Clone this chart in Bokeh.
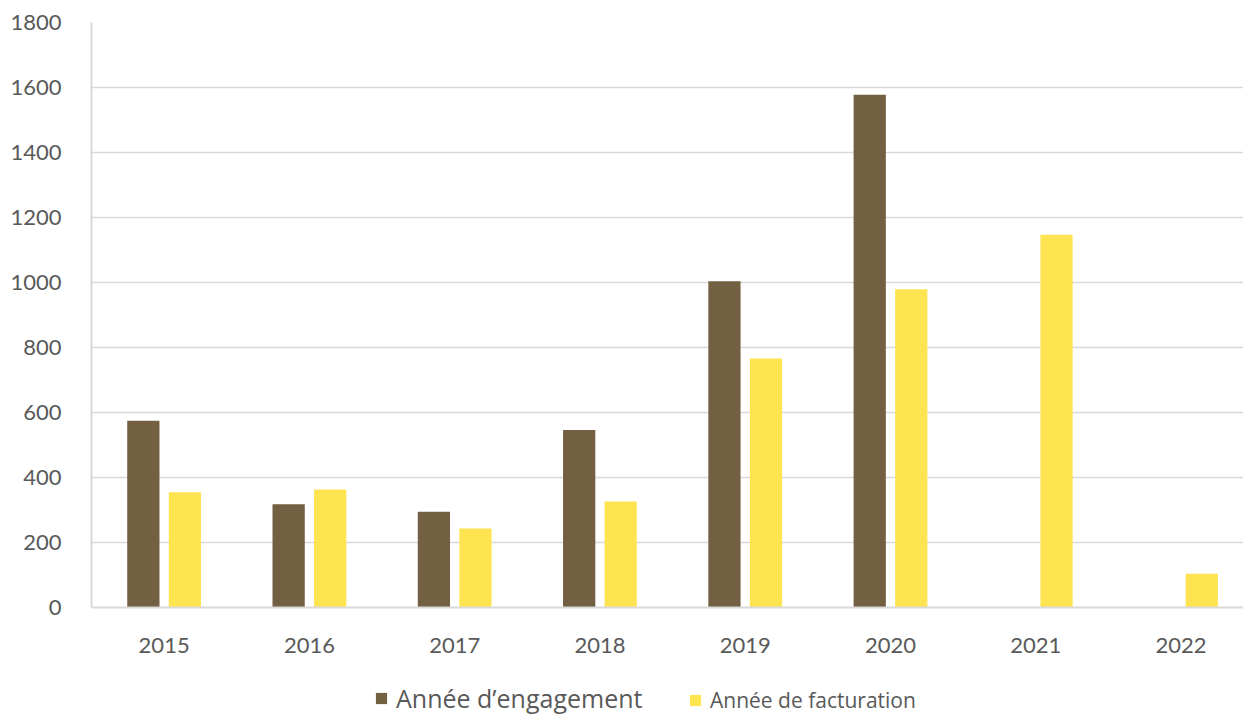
from bokeh.plotting import figure
from bokeh.models import ColumnDataSource, Range1d, FixedTicker, Legend, LegendItem
from bokeh.layouts import column
from bokeh.embed import file_html
from bokeh.resources import INLINE

years = ["2015", "2016", "2017", "2018", "2019", "2020", "2021", "2022"]
engagement = [575, 318, 295, 546, 1004, 1578, 0, 0]
facturation = [355, 363, 243, 326, 766, 979, 1147, 104]
y_ticks = [0, 200, 400, 600, 800, 1000, 1200, 1400, 1600, 1800]
series_names = ["Année d\u2019engagement", "Année de facturation"]

BROWN = "#735F42"
YELLOW = "#FFE452"
GRID = "#D9D9D9"
TXT = "#595959"

pos = [i + 0.5 for i in range(len(years))]
off = 0.143
bw = 0.222
src = ColumnDataSource(dict(
    x1=[p - off for p in pos], x2=[p + off for p in pos],
    e=engagement, f=facturation,
))

p = figure(width=1243, height=660, output_backend="svg", toolbar_location=None,
           x_range=Range1d(0, 7.93), y_range=Range1d(0, 1800),
           min_border_left=91, min_border_right=0, min_border_top=22, min_border_bottom=53)
p.outline_line_color = None
p.background_fill_color = "white"
p.border_fill_color = "white"

r1 = p.vbar(x="x1", top="e", width=bw, source=src, fill_color=BROWN, line_color=None)
r2 = p.vbar(x="x2", top="f", width=bw, source=src, fill_color=YELLOW, line_color=None)

p.xaxis.ticker = FixedTicker(ticks=pos)
p.xaxis.major_label_overrides = {pv: y for pv, y in zip(pos, years)}
p.yaxis.ticker = FixedTicker(ticks=y_ticks)

for ax in (p.xaxis, p.yaxis):
    ax.major_tick_line_color = None
    ax.minor_tick_line_color = None
    ax.axis_line_color = GRID
    ax.axis_line_width = 2
    ax.major_label_text_color = TXT
    ax.major_label_text_font = "Lato"
    ax.major_label_text_font_size = "22px"
p.xaxis.major_label_standoff = 24
p.yaxis.major_label_standoff = 24

p.xgrid.grid_line_color = None
p.ygrid.grid_line_color = GRID
p.ygrid.grid_line_width = 1.5
p.ygrid.ticker = FixedTicker(ticks=y_ticks)

# legend strip: same series, drawn outside the strip's visible range (only swatches show)
q = figure(width=1243, height=55, output_backend="svg", toolbar_location=None,
           x_range=Range1d(0, 7.93), y_range=Range1d(2000, 2001),
           min_border_left=91, min_border_right=0, min_border_top=0, min_border_bottom=0)
q.outline_line_color = None
q.axis.visible = False
q.grid.grid_line_color = None
q.background_fill_alpha = 0
l1 = q.vbar(x="x1", top="e", width=bw, source=src, fill_color=BROWN, line_color=None)
l2 = q.vbar(x="x2", top="f", width=bw, source=src, fill_color=YELLOW, line_color=None)

def make_legend(item_label, renderer, loc, size):
    return Legend(items=[LegendItem(label=item_label, renderers=[renderer])],
                  location=loc, orientation="horizontal",
                  glyph_width=14, glyph_height=14, label_height=14,
                  label_standoff=8, padding=0, margin=0, spacing=0,
                  border_line_color=None, background_fill_alpha=0,
                  label_text_font="Open Sans", label_text_font_size=size,
                  label_text_color=TXT, label_text_baseline="middle")

q.add_layout(make_legend(series_names[0], l1, (283, 0), "25px"))
q.add_layout(make_legend(series_names[1], l2, (597, 1), "21px"))

layout = column(p, q, spacing=0)
open("out.html", "w").write(file_html(layout, INLINE))
